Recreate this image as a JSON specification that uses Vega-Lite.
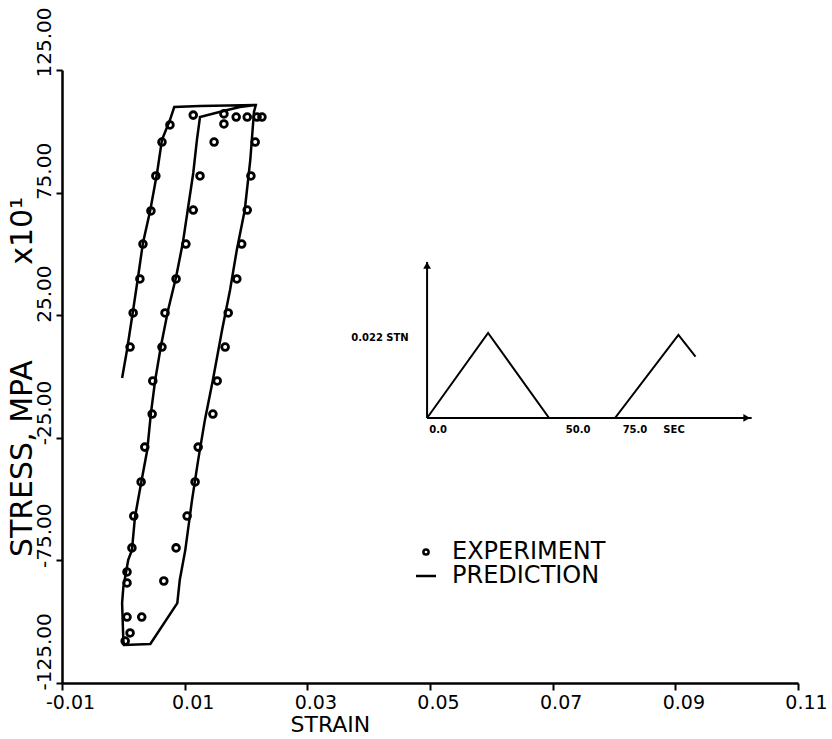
{
  "$schema": "https://vega.github.io/schema/vega-lite/v6.json",
  "autosize": "none",
  "width": 736,
  "height": 613,
  "padding": {"left": 62, "top": 70, "right": 34, "bottom": 56},
  "background": "white",
  "config": {
    "view": {"stroke": null},
    "font": "DejaVu Sans",
    "axis": {"grid": false, "domainColor": "black", "domainWidth": 2.5, "tickColor": "black", "tickWidth": 2, "labelColor": "black", "titleColor": "black", "labelFont": "DejaVu Sans", "titleFont": "DejaVu Sans", "titleFontWeight": "normal"}
  },
  "datasets": {
    "pred": [
      {"i":1,"strain":-0.0002,"stress":-0.6},{"i":2,"strain":0.0006,"stress":10.8},{"i":3,"strain":0.0016,"stress":27.1},{"i":4,"strain":0.0024,"stress":40.6},{"i":5,"strain":0.0032,"stress":54.5},{"i":6,"strain":0.0044,"stress":67.9},{"i":7,"strain":0.0055,"stress":83.0},{"i":8,"strain":0.0063,"stress":96.5},{"i":9,"strain":0.0076,"stress":104.6},{"i":10,"strain":0.0083,"stress":109.9},{"i":11,"strain":0.0125,"stress":110.3},{"i":12,"strain":0.0216,"stress":110.7},
      {"i":13,"strain":0.0213,"stress":107.9},{"i":14,"strain":0.0207,"stress":88.3},{"i":15,"strain":0.0198,"stress":67.9},{"i":16,"strain":0.0185,"stress":51.6},{"i":17,"strain":0.0174,"stress":35.3},{"i":18,"strain":0.0161,"stress":19.0},{"i":19,"strain":0.0146,"stress":-1.4},{"i":20,"strain":0.0133,"stress":-17.7},{"i":21,"strain":0.0122,"stress":-34.1},{"i":22,"strain":0.0112,"stress":-50.4},{"i":23,"strain":0.0101,"stress":-70.8},{"i":24,"strain":0.0092,"stress":-83.0},{"i":25,"strain":0.0088,"stress":-92.4},{"i":26,"strain":0.0044,"stress":-109.1},{"i":27,"strain":0.0001,"stress":-109.5},
      {"i":28,"strain":0.0000,"stress":-107.5},{"i":29,"strain":-0.0002,"stress":-92.4},{"i":30,"strain":0.0000,"stress":-85.9},{"i":31,"strain":0.0008,"stress":-74.8},{"i":32,"strain":0.0014,"stress":-70.8},{"i":33,"strain":0.0019,"stress":-57.3},{"i":34,"strain":0.0029,"stress":-43.4},{"i":35,"strain":0.0039,"stress":-30.0},{"i":36,"strain":0.0045,"stress":-14.9},{"i":37,"strain":0.0052,"stress":-1.4},{"i":38,"strain":0.0061,"stress":12.0},{"i":39,"strain":0.0073,"stress":27.1},{"i":40,"strain":0.0086,"stress":40.6},{"i":41,"strain":0.0097,"stress":54.5},{"i":42,"strain":0.0105,"stress":67.9},{"i":43,"strain":0.0114,"stress":83.0},{"i":44,"strain":0.0120,"stress":96.5},{"i":45,"strain":0.0125,"stress":105.8},{"i":46,"strain":0.0163,"stress":108.3},{"i":47,"strain":0.0190,"stress":109.9},{"i":48,"strain":0.0216,"stress":110.7}
    ],
    "exp": [
      {"strain":0.0114,"stress":106.6},{"strain":0.0164,"stress":107.1},{"strain":0.0184,"stress":105.8},{"strain":0.0202,"stress":105.8},{"strain":0.0218,"stress":105.8},{"strain":0.0226,"stress":105.8},
      {"strain":0.0076,"stress":102.6},{"strain":0.0164,"stress":103.0},
      {"strain":0.0063,"stress":95.6},{"strain":0.0148,"stress":95.6},{"strain":0.0215,"stress":95.6},
      {"strain":0.0053,"stress":81.8},{"strain":0.0125,"stress":81.8},{"strain":0.0208,"stress":81.8},
      {"strain":0.0045,"stress":67.5},{"strain":0.0114,"stress":67.9},{"strain":0.0202,"stress":67.9},
      {"strain":0.0032,"stress":54.0},{"strain":0.0102,"stress":54.0},{"strain":0.0193,"stress":54.0},
      {"strain":0.0027,"stress":39.8},{"strain":0.0086,"stress":39.8},{"strain":0.0185,"stress":39.8},
      {"strain":0.0016,"stress":25.9},{"strain":0.0068,"stress":25.9},{"strain":0.0171,"stress":25.9},
      {"strain":0.0011,"stress":12.0},{"strain":0.0063,"stress":12.0},{"strain":0.0166,"stress":12.0},
      {"strain":0.0048,"stress":-1.8},{"strain":0.0153,"stress":-1.8},
      {"strain":0.0047,"stress":-15.3},{"strain":0.0146,"stress":-15.3},
      {"strain":0.0035,"stress":-28.8},{"strain":0.0122,"stress":-28.8},
      {"strain":0.0029,"stress":-43.0},{"strain":0.0117,"stress":-43.0},
      {"strain":0.0017,"stress":-56.9},{"strain":0.0104,"stress":-56.9},
      {"strain":0.0014,"stress":-69.9},{"strain":0.0086,"stress":-69.9},
      {"strain":0.0006,"stress":-79.7},{"strain":0.0066,"stress":-83.4},{"strain":0.0006,"stress":-84.2},
      {"strain":0.0006,"stress":-98.1},{"strain":0.0030,"stress":-98.1},
      {"strain":0.0011,"stress":-104.6},{"strain":0.0003,"stress":-107.9}
    ],
    "wave": [
      {"k":1,"t":0,"s":0},{"k":2,"t":25,"s":0.022},{"k":3,"t":50,"s":0},{"k":4,"t":77,"s":0},{"k":5,"t":103,"s":0.0215},{"k":6,"t":110,"s":0.0159}
    ],
    "iaxes": [
      {"t":0,"s":0,"t2":0,"s2":0.0404},
      {"t":0,"s":0,"t2":133,"s2":0}
    ],
    "iarrows": [
      {"t":0,"s":0.0395,"dir":"up"},
      {"t":131,"s":0,"dir":"right"}
    ],
    "ilabels": [
      {"t":-19.3,"s":0.0207,"label":"0.022 STN"},
      {"t":4.5,"s":-0.0030,"label":"0.0"},
      {"t":61.9,"s":-0.0030,"label":"50.0"},
      {"t":85.2,"s":-0.0030,"label":"75.0"},
      {"t":101.2,"s":-0.0030,"label":"SEC"}
    ]
  },
  "layer": [
    {
      "layer": [
        {
          "data": {"name": "pred"},
          "mark": {"type": "line", "color": "black", "strokeWidth": 2.5},
          "encoding": {
            "x": {"field": "strain", "type": "quantitative", "scale": {"domain": [-0.01, 0.11], "nice": false, "zero": false},
              "axis": {"values": [-0.01, 0.01, 0.03, 0.05, 0.07, 0.09, 0.11], "labelExpr": "replace(format(datum.value, '.2f'), '\u2212', '-')", "title": "STRAIN", "titleFontSize": 22, "titlePadding": 2, "titleAlign": "left", "titleX": 228, "labelFontSize": 19, "tickSize": 7, "labelPadding": 3, "labelOffset": 8, "labelFlush": false}},
            "y": {"field": "stress", "type": "quantitative", "scale": {"domain": [-125, 125], "nice": false, "zero": false},
              "axis": {"values": [-125, -75, -25, 25, 75, 125], "labelExpr": "replace(format(datum.value, '.2f'), '\u2212', '-')", "title": "STRESS, MPA\u00a0\u00a0\u00a0\u00a0\u00a0\u00a0\u00a0\u00a0\u00a0\u00a0x10\u00b9", "titleFontSize": 30, "titlePadding": -3, "labelFontSize": 20, "labelAngle": 270, "labelAlign": "left", "labelBaseline": "bottom", "labelOffset": 7, "labelPadding": 2, "tickSize": 6, "labelFlush": false}},
            "order": {"field": "i", "type": "quantitative"}
          }
        },
        {
          "data": {"name": "exp"},
          "mark": {"type": "point", "filled": false, "color": "black", "strokeWidth": 2.8, "size": 676, "opacity": 1},
          "encoding": {
            "x": {"field": "strain", "type": "quantitative"},
            "y": {"field": "stress", "type": "quantitative"},
            "shape": {"datum": "EXPERIMENT", "type": "nominal",
              "scale": {"domain": ["EXPERIMENT", "PREDICTION"], "range": ["M-0.26,0A0.26,0.26 0 1,0 0.26,0A0.26,0.26 0 1,0 -0.26,0Z", "M-1,0H1"]},
              "legend": {"title": null, "orient": "none", "legendX": 352, "legendY": 470, "labelFont": "DejaVu Sans", "labelFontSize": 24, "labelColor": "black", "symbolSize": 400, "symbolStrokeWidth": 2.5, "symbolStrokeColor": "black", "symbolFillColor": "transparent", "rowPadding": -3, "labelOffset": 14}}
          }
        }
      ]
    },
    {
      "layer": [
        {
          "data": {"name": "iaxes"},
          "mark": {"type": "rule", "color": "black", "strokeWidth": 2},
          "encoding": {
            "x": {"field": "t", "type": "quantitative", "scale": {"domain": [-149.6, 152.0], "nice": false, "zero": false}, "axis": null},
            "x2": {"field": "t2"},
            "y": {"field": "s", "type": "quantitative", "scale": {"domain": [-0.06859, 0.09007], "nice": false, "zero": false}, "axis": null},
            "y2": {"field": "s2"}
          }
        },
        {
          "data": {"name": "wave"},
          "mark": {"type": "line", "color": "black", "strokeWidth": 2},
          "encoding": {
            "x": {"field": "t", "type": "quantitative"},
            "y": {"field": "s", "type": "quantitative"},
            "order": {"field": "k", "type": "quantitative"}
          }
        },
        {
          "data": {"name": "iarrows"},
          "mark": {"type": "point", "filled": true, "color": "black", "size": 60, "opacity": 1},
          "encoding": {
            "x": {"field": "t", "type": "quantitative"},
            "y": {"field": "s", "type": "quantitative"},
            "shape": {"field": "dir", "type": "nominal", "scale": {"domain": ["up", "right"], "range": ["triangle-up", "triangle-right"]}, "legend": null}
          }
        },
        {
          "data": {"name": "ilabels"},
          "mark": {"type": "text", "color": "black", "font": "DejaVu Sans", "fontWeight": "bold", "fontSize": 10, "align": "center", "baseline": "middle"},
          "encoding": {
            "x": {"field": "t", "type": "quantitative"},
            "y": {"field": "s", "type": "quantitative"},
            "text": {"field": "label"}
          }
        }
      ]
    }
  ],
  "resolve": {"scale": {"x": "independent", "y": "independent", "shape": "independent"}, "legend": {"shape": "independent"}}
}
